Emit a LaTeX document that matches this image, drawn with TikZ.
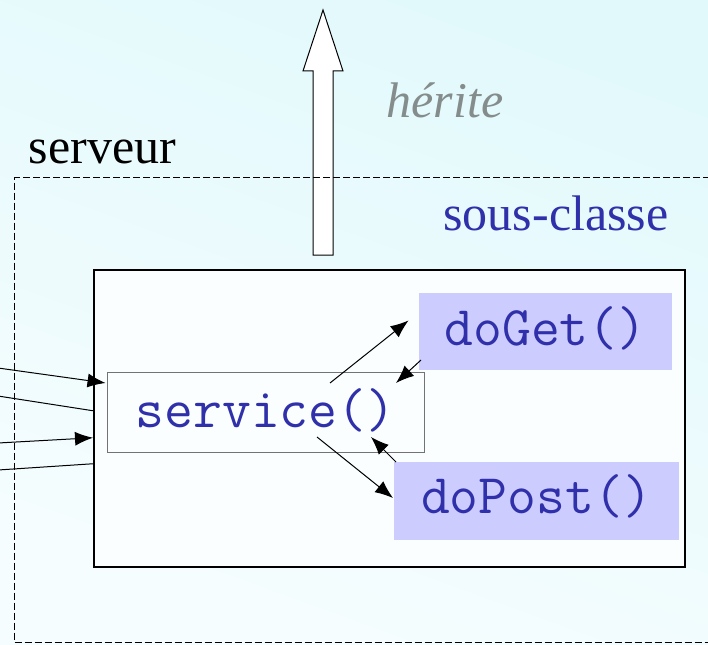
\documentclass[tikz,border=0pt]{standalone}
\usepackage{fontspec}
\setmainfont{Liberation Serif}
\usetikzlibrary{arrows.meta}
\definecolor{bgA}{RGB}{226,249,252}
\definecolor{bgB}{RGB}{246,253,254}
\definecolor{txtblue}{RGB}{48,48,170}
\definecolor{lav}{RGB}{204,204,255}
\definecolor{hergray}{RGB}{132,140,140}
\tikzset{
  big/.style={font=\fontsize{50}{60}\selectfont, inner sep=0pt},
  codefont/.style={font=\fontsize{56}{64}\ttfamily\selectfont, text=txtblue},
  methbox/.style={codefont, fill=lav, draw=none, inner sep=0pt},
  svcbox/.style={codefont, draw=black!55, line width=0.9pt, inner sep=0pt},
  arr/.style={line width=1pt, -{Latex[length=18pt,width=14pt]}},
  plain/.style={line width=1pt},
}
\begin{document}
\begin{tikzpicture}[x=1pt,y=-1pt]
\clip (0,0) rectangle (708,644);
\shade[top color=bgA, bottom color=bgB, shading angle=-20] (0,0) rectangle (708,644);
% big inheritance arrow
\draw[line width=1pt, fill=white] (313,255) -- (313,71) -- (303,71) -- (323,10) -- (343,71) -- (333,71) -- (333,255) -- cycle;
% server dashed frame
\node[draw, dashed, dash pattern=on 7pt off 3pt, line width=1.1pt, anchor=north west, minimum width=720pt, minimum height=465pt, inner sep=0pt] (srv) at (14,177) {};
\node[big, anchor=base] (srvlbl) at (102.5,164) {serveur};
\node[big, anchor=base, text=hergray, font=\fontsize{50}{60}\itshape\selectfont] (her) at (445,118) {hérite};
\node[big, anchor=base, text=txtblue] (sclbl) at (556,230) {sous-classe};
% sub-class box
\node[draw, line width=1.5pt, fill=white!50!bgB, anchor=north west, minimum width=591pt, minimum height=297pt, inner sep=0pt] (sub) at (93,269) {};
% method boxes
\node[svcbox, minimum width=317pt, minimum height=80pt, text height=35pt, text depth=5pt] (svc) at (265.5,412) {service()};
\node[methbox, minimum width=253pt, minimum height=77pt, text height=32pt, text depth=5pt] (get) at (545.5,331.5) {doGet()};
\node[methbox, minimum width=285pt, minimum height=78pt, text height=29pt, text depth=5pt] (post) at (536.5,501) {doPost()};
% inner connectors
\draw[arr] ([xshift=64.5pt,yshift=29pt]svc.center) -- ([xshift=-137pt,yshift=11pt]get.center);
\draw[arr] ([xshift=-124.5pt,yshift=-28.5pt]get.center) -- ([xshift=130.5pt,yshift=29pt]svc.center);
\draw[arr] ([xshift=51.5pt,yshift=-25pt]svc.center) -- ([xshift=-143.5pt,yshift=3pt]post.center);
\draw[arr] ([xshift=-140.5pt,yshift=39pt]post.center) -- ([xshift=105.5pt,yshift=-25pt]svc.center);
% outer connectors
\coordinate (la) at (-2,368);
\coordinate (lb) at (-2,396);
\coordinate (lc) at (-2,443);
\coordinate (ld) at (-2,470);
\draw[arr] (la) -- ([xshift=-1pt,yshift=29pt]svc.west);
\draw[plain] (lb) -- ([yshift=7.5pt]sub.west);
\draw[arr] (lc) -- ([yshift=-19.5pt]sub.west);
\draw[plain] (ld) -- ([yshift=-45.5pt]sub.west);
\end{tikzpicture}
\end{document}
